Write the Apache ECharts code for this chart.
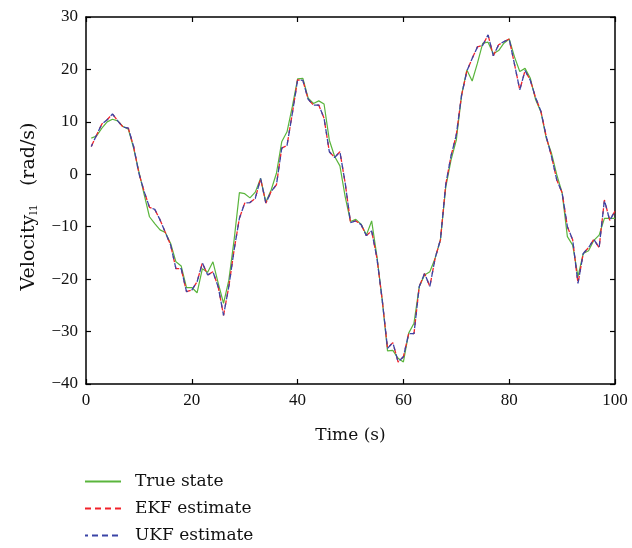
<!DOCTYPE html>
<html>
<head>
<meta charset="utf-8">
<script src="https://cdn.jsdelivr.net/npm/echarts@6/dist/echarts.min.js"></script>
<style>html,body{margin:0;padding:0;background:#fff}#c{width:632px;height:548px}</style>
</head>
<body>
<div id="c"></div>
<script>
var time = [];
for (var i = 1; i <= 100; i++) time.push(i);

var trueState = [
  6.9, 7.3, 8.8, 10.0, 10.5, 10.2, 9.1, 8.6, 5.0, 0.5,
  -3.9, -8.1, -9.4, -10.6, -11.1, -13.2, -16.7, -17.5, -21.6, -21.6,
  -22.6, -18.0, -18.7, -16.7, -20.8, -24.6, -20.2, -12.5, -3.5, -3.7,
  -4.5, -3.4, -0.8, -5.3, -3.0, 0.2, 6.2, 8.1, 12.9, 18.2,
  18.3, 14.5, 13.5, 14.0, 13.4, 6.5, 3.4, 1.6, -4.3, -9.0,
  -8.6, -9.5, -11.6, -8.9, -15.7, -24.0, -33.7, -33.6, -35.1, -35.8,
  -30.3, -28.4, -21.4, -19.2, -18.6, -16.0, -12.5, -2.5, 2.7, 6.5,
  15.1, 19.9, 17.8, 21.2, 25.0, 25.2, 23.0, 23.6, 25.0, 25.8,
  22.4, 19.6, 20.2, 18.3, 14.2, 11.9, 6.9, 4.0, -0.1, -3.5,
  -11.9, -13.5, -19.5, -15.1, -14.6, -12.6, -11.6, -8.4, -8.4, -8.4
];

var ekfEstimate = [
  5.3, 7.5, 9.6, 10.4, 11.5, 10.2, 9.0, 8.8, 5.3, 0.2,
  -3.3, -6.3, -6.7, -8.7, -11.1, -13.5, -18.0, -18.0, -22.4, -22.1,
  -20.5, -16.9, -19.2, -18.6, -21.5, -26.9, -21.4, -14.4, -8.4, -5.5,
  -5.4, -4.6, -0.8, -5.5, -3.3, -2.0, 5.0, 5.5, 11.6, 18.0,
  17.9, 14.3, 13.2, 13.2, 10.7, 4.3, 3.2, 4.3, -1.7, -9.2,
  -8.9, -9.6, -11.7, -10.8, -16.0, -24.0, -33.2, -32.1, -35.8, -34.8,
  -30.4, -30.4, -21.4, -18.9, -21.4, -16.0, -12.5, -2.0, 3.5, 7.5,
  15.1, 19.7, 22.1, 24.3, 24.6, 26.6, 22.6, 24.7, 25.3, 25.8,
  21.0, 16.1, 19.8, 17.9, 14.6, 12.0, 7.2, 3.4, -1.1, -3.5,
  -10.0, -12.5, -20.8, -15.1, -14.0, -12.4, -14.0, -4.9, -8.8, -7.0
];

var ukfEstimate = [
  5.3, 7.5, 9.6, 10.4, 11.5, 10.2, 9.0, 8.8, 5.3, 0.2,
  -3.3, -6.3, -6.7, -8.7, -11.1, -13.5, -18.0, -18.0, -22.4, -22.1,
  -20.5, -16.9, -19.2, -18.6, -21.5, -26.9, -21.4, -14.4, -8.4, -5.5,
  -5.4, -4.6, -0.8, -5.5, -3.3, -2.0, 5.0, 5.5, 11.6, 18.0,
  17.9, 14.3, 13.2, 13.2, 10.7, 4.3, 3.2, 4.3, -1.7, -9.2,
  -8.9, -9.6, -11.7, -10.8, -16.0, -24.0, -33.2, -32.1, -35.8, -34.8,
  -30.4, -30.4, -21.4, -18.9, -21.4, -16.0, -12.5, -2.0, 3.5, 7.5,
  15.1, 19.7, 22.1, 24.3, 24.6, 26.6, 22.6, 24.7, 25.3, 25.8,
  21.0, 16.1, 19.8, 17.9, 14.6, 12.0, 7.2, 3.4, -1.1, -3.5,
  -10.0, -12.5, -20.8, -15.1, -14.0, -12.4, -14.0, -4.9, -8.8, -7.0
];

var seriesNames = ['True state', 'EKF estimate', 'UKF estimate'];
var xTicks = [0, 20, 40, 60, 80, 100];
var yTicks = [-40, -30, -20, -10, 0, 10, 20, 30];

function pairs(vals) {
  return vals.map(function (v, i) { return [time[i], v]; });
}

var NUMFONT = 'Liberation Serif';
var WORDFONT = 'DejaVu Serif';
function fmt(v) { return String(v).replace('-', '\u2212'); }
function wordTxt(sz) { return { fontFamily: WORDFONT, fontSize: sz || 17, color: '#111' }; }
function numLabel() {
  return { margin: 8, formatter: fmt, fontFamily: NUMFONT, fontSize: 17, color: '#111' };
}
function axisLine() { return { show: true, onZero: false, lineStyle: { color: '#000', width: 1.5 } }; }
function tick() { return { show: true, inside: true, length: 5, lineStyle: { color: '#000', width: 1.2 } }; }

var chart = echarts.init(document.getElementById('c'), null, { renderer: 'canvas' });
chart.setOption({
  animation: false,
  backgroundColor: '#fff',
  grid: { left: 86, right: 17, top: 17, bottom: 164, containLabel: false },
  xAxis: [{
    type: 'value', min: xTicks[0], max: xTicks[xTicks.length - 1], interval: 20,
    position: 'bottom',
    axisLine: axisLine(), axisTick: tick(), splitLine: { show: false },
    axisLabel: numLabel(),
    name: 'Time (s)', nameLocation: 'middle', nameGap: 43,
    nameTextStyle: wordTxt(17)
  }, {
    type: 'value', min: xTicks[0], max: xTicks[xTicks.length - 1], interval: 20, position: 'top',
    axisLine: axisLine(), axisTick: tick(), axisLabel: { show: false }, splitLine: { show: false }
  }],
  yAxis: [{
    type: 'value', min: yTicks[0], max: yTicks[yTicks.length - 1], interval: 10,
    position: 'left',
    axisLine: axisLine(), axisTick: tick(), splitLine: { show: false },
    axisLabel: numLabel(),
    name: 'Velocity{sub|l1}   (rad/s)', nameLocation: 'middle', nameGap: 47,
    nameTextStyle: Object.assign({
      padding: [0, 12, 0, 0],
      rich: { sub: { fontFamily: WORDFONT, fontSize: 11, color: '#111', padding: [0, 0, -10, 0] } }
    }, wordTxt(19))
  }, {
    type: 'value', min: yTicks[0], max: yTicks[yTicks.length - 1], interval: 10, position: 'right',
    axisLine: axisLine(), axisTick: tick(), axisLabel: { show: false }, splitLine: { show: false }
  }],
  legend: {
    orient: 'vertical', left: 84, top: 473, padding: 0, height: 80,
    itemWidth: 36, itemHeight: 14, itemGap: 10,
    itemStyle: { opacity: 0 },
    textStyle: Object.assign({ padding: [0, 0, 0, 9] }, wordTxt(17)),
    data: seriesNames
  },
  series: [{
    name: seriesNames[0], type: 'line', data: pairs(trueState),
    symbol: 'none', lineStyle: { color: '#5ab53c', width: 1.2 }, itemStyle: { color: '#5ab53c' }
  }, {
    name: seriesNames[1], type: 'line', data: pairs(ekfEstimate),
    symbol: 'none', lineStyle: { color: '#f2222a', width: 1.3, type: [6, 4] }, itemStyle: { color: '#f2222a' }
  }, {
    name: seriesNames[2], type: 'line', data: pairs(ukfEstimate),
    symbol: 'none', lineStyle: { color: '#3a44a6', width: 1.3, type: [6, 4], dashOffset: 3 }, itemStyle: { color: '#3a44a6' }
  }]
});
</script>
</body>
</html>
